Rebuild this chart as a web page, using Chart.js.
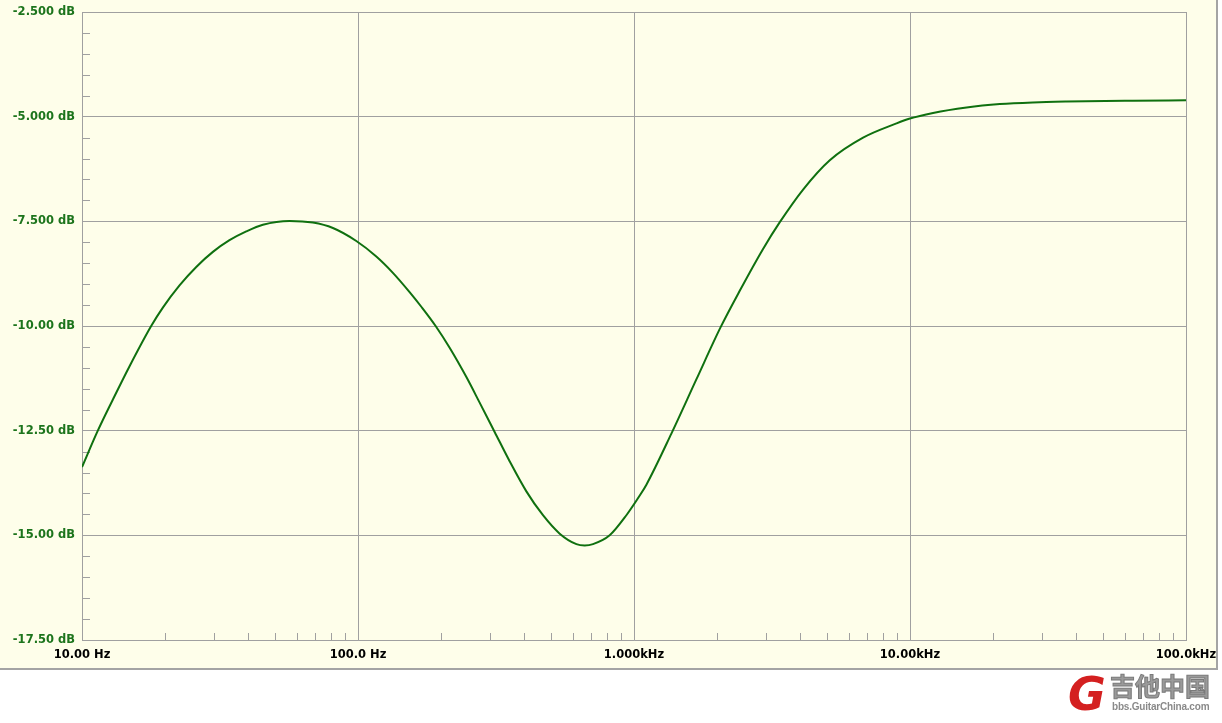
<!DOCTYPE html>
<html lang="zh-CN">
<head>
<meta charset="UTF-8">
<title>Frequency response</title>
<script src="https://cdn.jsdelivr.net/npm/chart.js"></script>
<style>
    body { margin: 0; background: #ffffff; }
    #plot {
        position: absolute; left: 0; top: 0;
        width: 1216px; height: 668px;
        background: #fefeea;
        border-right: 2px solid #a4a4a4;
        border-bottom: 2px solid #a4a4a4;
    }
    #logo { position: absolute; left: 1066px; top: 671px; width: 156px; height: 48px; }
    #logo .g {
        position: absolute; left: 2px; top: -4px;
        font: italic bold 46px "DejaVu Sans", sans-serif; color: #d42020;
    }
    #logo .cn {
        position: absolute; left: 44px; top: 0px;
        font: bold 25px "Noto Sans CJK SC", sans-serif; color: #9a9a9a;
        line-height: 28px;
        -webkit-text-stroke: 1px #7a7a7a;
    }
    #logo .en {
        position: absolute; left: 46px; top: 30px;
        font: bold 10px "Liberation Sans Narrow", "Liberation Sans", sans-serif; color: #8a8a8a;
        letter-spacing: -0.2px;
    }
</style>
</head>
<body>
<div id="plot"><canvas id="grafico" width="1216" height="668"></canvas></div>
<div id="logo"><span class="g">G</span><span class="cn">吉他中国</span><span class="en">bbs.GuitarChina.com</span></div>

<script>
    // frequency response
    const freqHz = [10, 11.41, 12.93, 14.87, 17.81, 19.63, 22.56, 25.94, 29.80, 34.23,
        39.37, 45.23, 56.51, 68.62, 81.1, 98.6, 116.5, 133.8, 153.8, 169.6,
        191.1, 214.8, 247.0, 275.9, 312.7, 354.3, 407.4, 468.0, 538.0, 618.5,
        662.8, 710.3, 816.3, 938.4, 1049, 1109, 1366, 1684, 2056, 2416,
        2935, 3375, 4099, 5121, 6761, 8935, 9924, 12120, 16030, 21160,
        27870, 36910, 64200, 100000];
    const gainDb = [-13.37, -12.50, -11.76, -10.96, -10.00, -9.56, -9.03, -8.59, -8.23, -7.95,
        -7.74, -7.58, -7.49, -7.53, -7.66, -7.97, -8.34, -8.73, -9.19, -9.54,
        -10.00, -10.52, -11.22, -11.83, -12.53, -13.23, -13.95, -14.52, -14.96, -15.21,
        -15.24, -15.21, -15.00, -14.52, -14.05, -13.79, -12.57, -11.27, -10.04, -9.16,
        -8.16, -7.52, -6.74, -6.04, -5.50, -5.16, -5.05, -4.91, -4.78, -4.70,
        -4.66, -4.64, -4.62, -4.61];

    const xTickValues = [10, 100, 1000, 10000, 100000];
    const xTickLabels = ['10.00 Hz', '100.0 Hz', '1.000kHz', '10.00kHz', '100.0kHz'];
    const yTickValues = [-17.5, -15, -12.5, -10, -7.5, -5, -2.5];
    const yTickLabels = ['-17.50 dB', '-15.00 dB', '-12.50 dB', '-10.00 dB', '-7.500 dB', '-5.000 dB', '-2.500 dB'];

    const corGrade = '#a0a0a0';

    // small ticks inside the plot (2..9 per decade, 0.5 dB steps)
    const minorTicks = {
        id: 'minorTicks',
        beforeDatasetsDraw(chart) {
            const ctx = chart.ctx;
            const x = chart.scales.x, y = chart.scales.y;
            const area = chart.chartArea;
            ctx.save();
            ctx.strokeStyle = corGrade;
            ctx.lineWidth = 1;
            ctx.beginPath();
            for (let d = 10; d < 100000; d *= 10) {
                for (let k = 2; k <= 9; k++) {
                    const px = Math.round(x.getPixelForValue(d * k)) + 0.5;
                    ctx.moveTo(px, area.bottom);
                    ctx.lineTo(px, area.bottom - 7);
                }
            }
            for (let i = 0; i < 30; i++) {
                if (i % 5 === 0) continue;
                const v = -17.5 + i * 0.5;
                const py = Math.round(y.getPixelForValue(v)) + 0.5;
                ctx.moveTo(area.left, py);
                ctx.lineTo(area.left + 8, py);
            }
            ctx.stroke();
            ctx.restore();
        }
    };

    const pontos = freqHz.map((f, i) => ({ x: f, y: gainDb[i] }));

    new Chart(document.getElementById('grafico'), {
        type: 'line',
        data: {
            datasets: [{
                data: pontos,
                borderColor: '#0f700f',
                borderWidth: 2,
                pointRadius: 0,
                cubicInterpolationMode: 'monotone',
                fill: false
            }]
        },
        options: {
            responsive: false,
            animation: false,
            layout: { padding: { left: 0, top: 12, right: 30, bottom: 0 } },
            plugins: { legend: { display: false }, tooltip: { enabled: false } },
            scales: {
                x: {
                    type: 'logarithmic',
                    min: 10,
                    max: 100000,
                    afterBuildTicks: (s) => { s.ticks = xTickValues.map(v => ({ value: v })); },
                    afterFit: (s) => { s.height = 28; s.paddingLeft = 0; s.paddingRight = 0; },
                    border: { color: corGrade, width: 1 },
                    grid: { color: corGrade, lineWidth: 1, drawTicks: false },
                    ticks: {
                        autoSkip: false,
                        maxRotation: 0,
                        padding: 8,
                        color: '#000000',
                        font: { family: 'DejaVu Sans', size: 11.5, weight: 'bold' },
                        callback: (v) => xTickLabels[xTickValues.indexOf(v)]
                    }
                },
                y: {
                    type: 'linear',
                    min: -17.5,
                    max: -2.5,
                    afterBuildTicks: (s) => { s.ticks = yTickValues.map(v => ({ value: v })); },
                    afterFit: (s) => { s.width = 82; s.paddingTop = 0; s.paddingBottom = 0; },
                    border: { color: corGrade, width: 1 },
                    grid: { color: corGrade, lineWidth: 1, drawTicks: false },
                    ticks: {
                        padding: 7,
                        color: '#1c741c',
                        font: { family: 'DejaVu Sans', size: 11.5, weight: 'bold' },
                        callback: (v) => yTickLabels[yTickValues.indexOf(v)]
                    }
                }
            }
        },
        plugins: [minorTicks]
    });
</script>
</body>
</html>
